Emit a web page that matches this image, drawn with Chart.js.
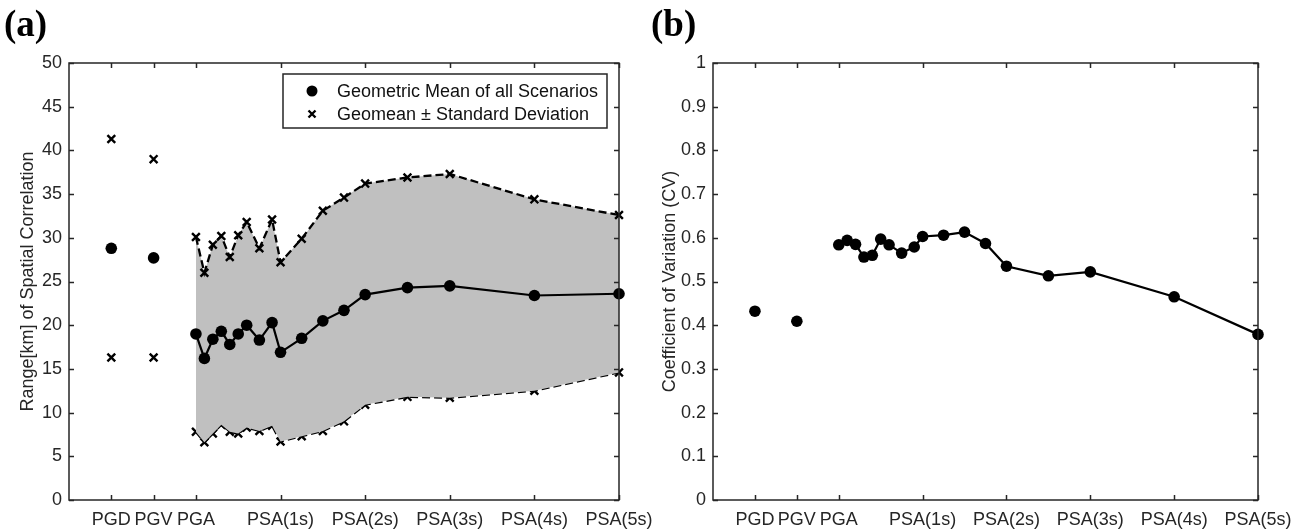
<!DOCTYPE html>
<html>
<head>
<meta charset="utf-8">
<script src="https://cdn.jsdelivr.net/npm/chart.js@4.4.1/dist/chart.umd.min.js"></script>
<style>
  body { margin: 0; background: #fff; }
  #wrap { position: relative; width: 1306px; height: 529px; }
  .panel { position: absolute; top: 0; height: 529px; }
  canvas { display: block; }
</style>
</head>
<body>
<div id="wrap">
  <div class="panel" style="left:0;width:680px"><canvas id="chart-a"></canvas></div>
  <div class="panel" style="left:650px;width:656px"><canvas id="chart-b"></canvas></div>
</div>
<script>
// x positions on the axis (PGD, PGV, PGA, then periods)
const tickPositions = [1, 2, 3, 5, 7, 9, 11, 13];
const tickLabels = ['PGD', 'PGV', 'PGA', 'PSA(1s)', 'PSA(2s)', 'PSA(3s)', 'PSA(4s)', 'PSA(5s)'];
const pgPositions = [1, 2];
const periodPositions = [3, 3.2, 3.4, 3.6, 3.8, 4.0, 4.2, 4.5, 4.8, 5.0, 5.5, 6.0, 6.5, 7, 8, 9, 11, 13];

// panel (a): range [km] of spatial correlation
const rangeMeanPG = [28.8, 27.7];
const rangeUpperPG = [41.3, 39.0];
const rangeLowerPG = [16.3, 16.3];
const rangeMean = [19.0, 16.2, 18.4, 19.3, 17.8, 19.0, 20.0, 18.3, 20.3, 16.9, 18.5, 20.5, 21.7, 23.5, 24.3, 24.5, 23.4, 23.6];
const rangeUpper = [30.1, 26.0, 29.2, 30.2, 27.8, 30.3, 31.8, 28.8, 32.1, 27.2, 29.9, 33.1, 34.6, 36.2, 36.9, 37.3, 34.4, 32.6];
const rangeLower = [7.8, 6.6, 7.6, 8.6, 7.8, 7.6, 8.3, 7.9, 8.5, 6.7, 7.3, 7.9, 9.0, 10.9, 11.8, 11.7, 12.5, 14.6];

// panel (b): coefficient of variation
const cvPG = [0.432, 0.409];
const cv = [0.584, 0.594, 0.585, 0.556, 0.560, 0.597, 0.584, 0.565, 0.579, 0.603, 0.606, 0.613, 0.587, 0.535, 0.513, 0.522, 0.465, 0.379];

const legendLabels = ['Geometric Mean of all Scenarios', 'Geomean \u00b1 Standard Deviation'];

const FONT = '"Liberation Sans", Arial, sans-serif';
const AXIS = '#262626';

function pts(xs, ys) {
    return xs.map((x, i) => ({ x: x, y: ys[i] }));
}

// box around the plot and inward ticks on all four sides, MATLAB style
const framePlugin = {
    id: 'frame',
    afterDraw(chart) {
        const { ctx, chartArea: a, scales } = chart;
        ctx.save();
        ctx.strokeStyle = AXIS;
        ctx.lineWidth = 1.5;
        ctx.strokeRect(a.left, a.top, a.right - a.left, a.bottom - a.top);
        ctx.beginPath();
        scales.y.ticks.forEach(t => {
            const py = Math.round(scales.y.getPixelForValue(t.value)) + 0.5;
            ctx.moveTo(a.left, py); ctx.lineTo(a.left + 5, py);
            ctx.moveTo(a.right, py); ctx.lineTo(a.right - 5, py);
        });
        scales.x.ticks.forEach(t => {
            const px = Math.round(scales.x.getPixelForValue(t.value)) + 0.5;
            ctx.moveTo(px, a.bottom); ctx.lineTo(px, a.bottom - 5);
            ctx.moveTo(px, a.top); ctx.lineTo(px, a.top + 5);
        });
        ctx.stroke();
        // panel letter
        const opts = chart.options.plugins.frame;
        ctx.fillStyle = '#000';
        ctx.font = 'bold 37px "Liberation Serif", "Times New Roman", serif';
        ctx.textBaseline = 'alphabetic';
        ctx.fillText(opts.letter, opts.letterX, 36);
        ctx.restore();
    }
};

// legend box inside panel (a)
const boxLegend = {
    id: 'boxLegend',
    afterDraw(chart) {
        if (!chart.options.plugins.boxLegend.show) return;
        const ctx = chart.ctx;
        ctx.save();
        ctx.fillStyle = '#fff';
        ctx.fillRect(283, 74, 324, 54);
        ctx.strokeStyle = AXIS;
        ctx.lineWidth = 1.5;
        ctx.strokeRect(283, 74, 324, 54);
        ctx.fillStyle = '#000';
        ctx.beginPath();
        ctx.arc(312, 91, 5.5, 0, Math.PI * 2);
        ctx.fill();
        ctx.strokeStyle = '#000';
        ctx.lineWidth = 2.4;
        ctx.beginPath();
        ctx.moveTo(308.5, 110.5); ctx.lineTo(315.5, 117.5);
        ctx.moveTo(315.5, 110.5); ctx.lineTo(308.5, 117.5);
        ctx.stroke();
        ctx.fillStyle = '#111';
        ctx.font = '18px ' + FONT;
        ctx.textBaseline = 'middle';
        ctx.fillText(legendLabels[0], 337, 92);
        ctx.fillText(legendLabels[1], 337, 115);
        ctx.restore();
    }
};

function baseOptions(yMin, yMax, yStep, yTitle, yWidth, titlePad, rightPad, letter, letterX, showLegend) {
    return {
        animation: false,
        responsive: false,
        layout: { padding: { top: 63, right: rightPad, bottom: 0, left: 0 } },
        plugins: {
            legend: { display: false },
            tooltip: { enabled: false },
            frame: { letter: letter, letterX: letterX },
            boxLegend: { show: showLegend }
        },
        scales: {
            x: {
                type: 'linear',
                min: 0,
                max: 13,
                grid: { display: false, drawTicks: false, tickLength: 0 },
                border: { display: false },
                afterBuildTicks: s => { s.ticks = tickPositions.map(v => ({ value: v })); },
                afterFit: s => { s.height = 29; s.paddingLeft = 0; s.paddingRight = 0; },
                ticks: {
                    autoSkip: false,
                    maxRotation: 0,
                    padding: 9,
                    color: AXIS,
                    font: { family: FONT, size: 18 },
                    callback: (v, i) => tickLabels[i]
                }
            },
            y: {
                min: yMin,
                max: yMax,
                grid: { display: false, drawTicks: false, tickLength: 0 },
                border: { display: false },
                afterFit: s => { s.width = yWidth; s.paddingTop = 0; s.paddingBottom = 0; },
                ticks: {
                    stepSize: yStep,
                    padding: 7,
                    color: AXIS,
                    font: { family: FONT, size: 18 },
                    callback: v => String(Number(v.toFixed(2)))
                },
                title: {
                    display: true,
                    text: yTitle,
                    color: AXIS,
                    padding: { top: titlePad, bottom: 0 },
                    font: { family: FONT, size: 18 }
                }
            }
        }
    };
}

const bandLine = {
    borderColor: '#000',
    borderWidth: 2.3,
    borderDash: [8, 4],
    pointStyle: 'crossRot',
    pointRadius: 5.5,
    pointBorderWidth: 2.4,
    pointBorderColor: '#000',
    tension: 0,
    clip: false
};

const meanDots = {
    borderColor: '#000',
    borderWidth: 2.2,
    pointStyle: 'circle',
    pointRadius: 5.8,
    pointBackgroundColor: '#000',
    pointBorderColor: '#000',
    pointBorderWidth: 0,
    tension: 0,
    clip: false
};

const canvasA = document.querySelector('#chart-a');
canvasA.width = 680; canvasA.height = 529;
new Chart(canvasA.getContext('2d'), {
    type: 'line',
    data: {
        // datasets drawn last-to-first, so the band goes at the end to sit underneath
        datasets: [
            Object.assign({}, meanDots, { data: pts(periodPositions, rangeMean), fill: false }),
            Object.assign({}, meanDots, { data: pts(pgPositions, rangeMeanPG), showLine: false }),
            Object.assign({}, bandLine, { data: pts(pgPositions, rangeUpperPG), showLine: false }),
            Object.assign({}, bandLine, { data: pts(pgPositions, rangeLowerPG), showLine: false }),
            Object.assign({}, bandLine, { data: pts(periodPositions, rangeUpper), fill: '+1', backgroundColor: '#c0c0c0' }),
            Object.assign({}, bandLine, { data: pts(periodPositions, rangeLower), fill: false })
        ]
    },
    options: baseOptions(0, 50, 5, 'Range[km] of Spatial Correlation', 69, 17, 61, '(a)', 4, true),
    plugins: [framePlugin, boxLegend]
});

const canvasB = document.querySelector('#chart-b');
canvasB.width = 656; canvasB.height = 529;
new Chart(canvasB.getContext('2d'), {
    type: 'line',
    data: {
        datasets: [
            Object.assign({}, meanDots, { data: pts(periodPositions, cv), fill: false }),
            Object.assign({}, meanDots, { data: pts(pgPositions, cvPG), showLine: false })
        ]
    },
    options: baseOptions(0, 1, 0.1, 'Coefficient of Variation (CV)', 63, 9, 48, '(b)', 1, false),
    plugins: [framePlugin, boxLegend]
});
</script>
</body>
</html>
